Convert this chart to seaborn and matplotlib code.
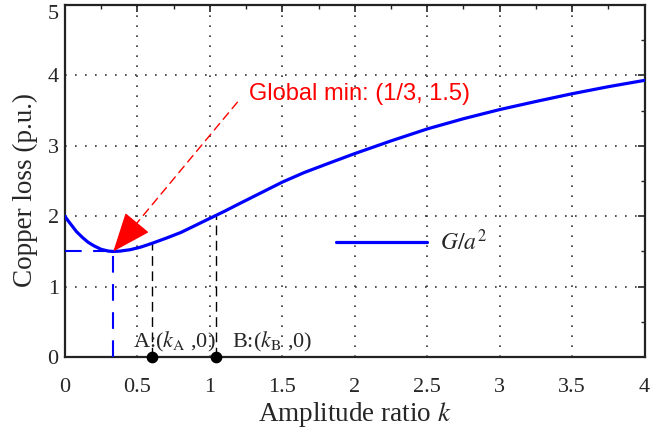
import numpy as np
import pandas as pd
import matplotlib
matplotlib.use("Agg")
import matplotlib.pyplot as plt
import seaborn as sns

# ---- data ----
k_vals = [0.0, 0.02, 0.05, 0.08, 0.12, 0.16, 0.20, 0.25, 0.30, 1/3, 0.38, 0.45,
          0.52, 0.60, 0.70, 0.80, 0.90, 1.00, 1.10, 1.20, 1.35, 1.50, 1.65, 1.83,
          2.00, 2.25, 2.50, 2.75, 3.00, 3.25, 3.50, 3.75, 4.00]
loss_vals = [2.00, 1.94, 1.86, 1.78, 1.70, 1.63, 1.58, 1.53, 1.505, 1.50, 1.505, 1.525,
             1.56, 1.615, 1.69, 1.77, 1.87, 1.97, 2.07, 2.175, 2.33, 2.485, 2.62, 2.76,
             2.89, 3.07, 3.24, 3.385, 3.515, 3.63, 3.74, 3.84, 3.93]
min_point = (1/3, 1.5)
kA, lossA = 0.60, 1.615
kB, lossB = 1.04, 2.01
x_ticks = [0, 0.5, 1, 1.5, 2, 2.5, 3, 3.5, 4]
y_ticks = [0, 1, 2, 3, 4, 5]
series_label = r"$G/a^{2}$"
annot_text = "Global min: (1/3, 1.5)"

df = pd.DataFrame({"k": k_vals, "loss": loss_vals})

sns.set_style("white")
plt.rcParams["font.family"] = ["Liberation Serif", "DejaVu Serif"]
plt.rcParams["mathtext.fontset"] = "stix"

fig = plt.figure(figsize=(6.7, 4.36), dpi=100)
ax = fig.add_axes([0.097, 0.181, 0.865, 0.8075])

sns.lineplot(data=df, x="k", y="loss", ax=ax, color="#0000ff", lw=2.3,
             label=series_label, zorder=5)

# guide lines for the minimum
ax.plot([0, min_point[0]], [min_point[1], min_point[1]], color="#0000ff",
        lw=1.5, linestyle=(0, (8, 5.5)), zorder=4)
ax.plot([min_point[0], min_point[0]], [0, min_point[1]], color="#0000ff",
        lw=1.5, linestyle=(0, (8, 5.5)), zorder=4)

# A and B vertical lines and points
for kk, ll in [(kA, lossA), (kB, lossB)]:
    ax.plot([kk, kk], [0, ll], color="black", lw=1.0, linestyle=(0, (7, 4)), zorder=4)
ax.scatter([kA, kB], [0, 0], s=55, color="black", zorder=10, clip_on=False)

ax.text(0.753, 0.05, r"A:($k_{\rm A}$ ,0)", fontsize=16, ha="center", va="bottom", zorder=6)
ax.text(1.43, 0.05, r"B:($k_{\rm B}$ ,0)", fontsize=16, ha="center", va="bottom", zorder=6)

# annotation arrow: dashed shaft + solid head
arrow_start = (1.19, 3.62)
ax.annotate("", xy=(0.40, 1.665), xytext=arrow_start,
            arrowprops=dict(arrowstyle="-", color="red", lw=1.0,
                            linestyle=(0, (6, 4)), shrinkA=0, shrinkB=0),
            zorder=7)
ax.annotate("", xy=min_point, xytext=(0.43, 1.74),
            arrowprops=dict(arrowstyle="-|>,head_length=1.25,head_width=0.5",
                            color="red", lw=1.0, shrinkA=0, shrinkB=0,
                            mutation_scale=20),
            zorder=7)
ax.text(2.03, 3.74, annot_text, color="red", fontsize=17,
        family=["Liberation Sans", "DejaVu Sans"], ha="center", va="center")

# axes
ax.set_xlim(0, 4)
ax.set_ylim(0, 5)
ax.set_xticks(x_ticks)
ax.set_xticklabels([f"{t:g}" for t in x_ticks])
ax.set_yticks(y_ticks)
ax.set_yticklabels([f"{t:g}" for t in y_ticks])
ax.set_xticks(np.arange(0, 4.01, 0.25), minor=True)
ax.set_yticks(np.arange(0, 5.01, 0.5), minor=True)
ax.tick_params(which="both", direction="in", top=True, right=True, labelsize=16,
               color="#222222")
ax.tick_params(which="major", length=5, width=1.2)
ax.tick_params(axis="x", which="major", pad=15)
ax.tick_params(axis="y", which="major", pad=4.5)
ax.tick_params(which="minor", length=3, width=1.0)
ax.get_yticklabels()[-1].set_va("top")
ax.grid(True, which="major", color="#333333", lw=1.2, linestyle=(0, (1, 5)))
for sp in ax.spines.values():
    sp.set_visible(True)
    sp.set_linewidth(1.6)
    sp.set_color("#222222")

ax.set_xlabel(r"Amplitude ratio $k$", fontsize=19.5, labelpad=2)
ax.set_ylabel("Copper loss (p.u.)", fontsize=19.5)
ax.yaxis.set_label_coords(-0.046, 0.474)

ax.legend(loc="center left", bbox_to_anchor=(0.468, 0.325), frameon=False,
          handlelength=3.85, handletextpad=0.55, fontsize=17,
          borderaxespad=0, borderpad=0)

fig.savefig("out.png", dpi=100)
